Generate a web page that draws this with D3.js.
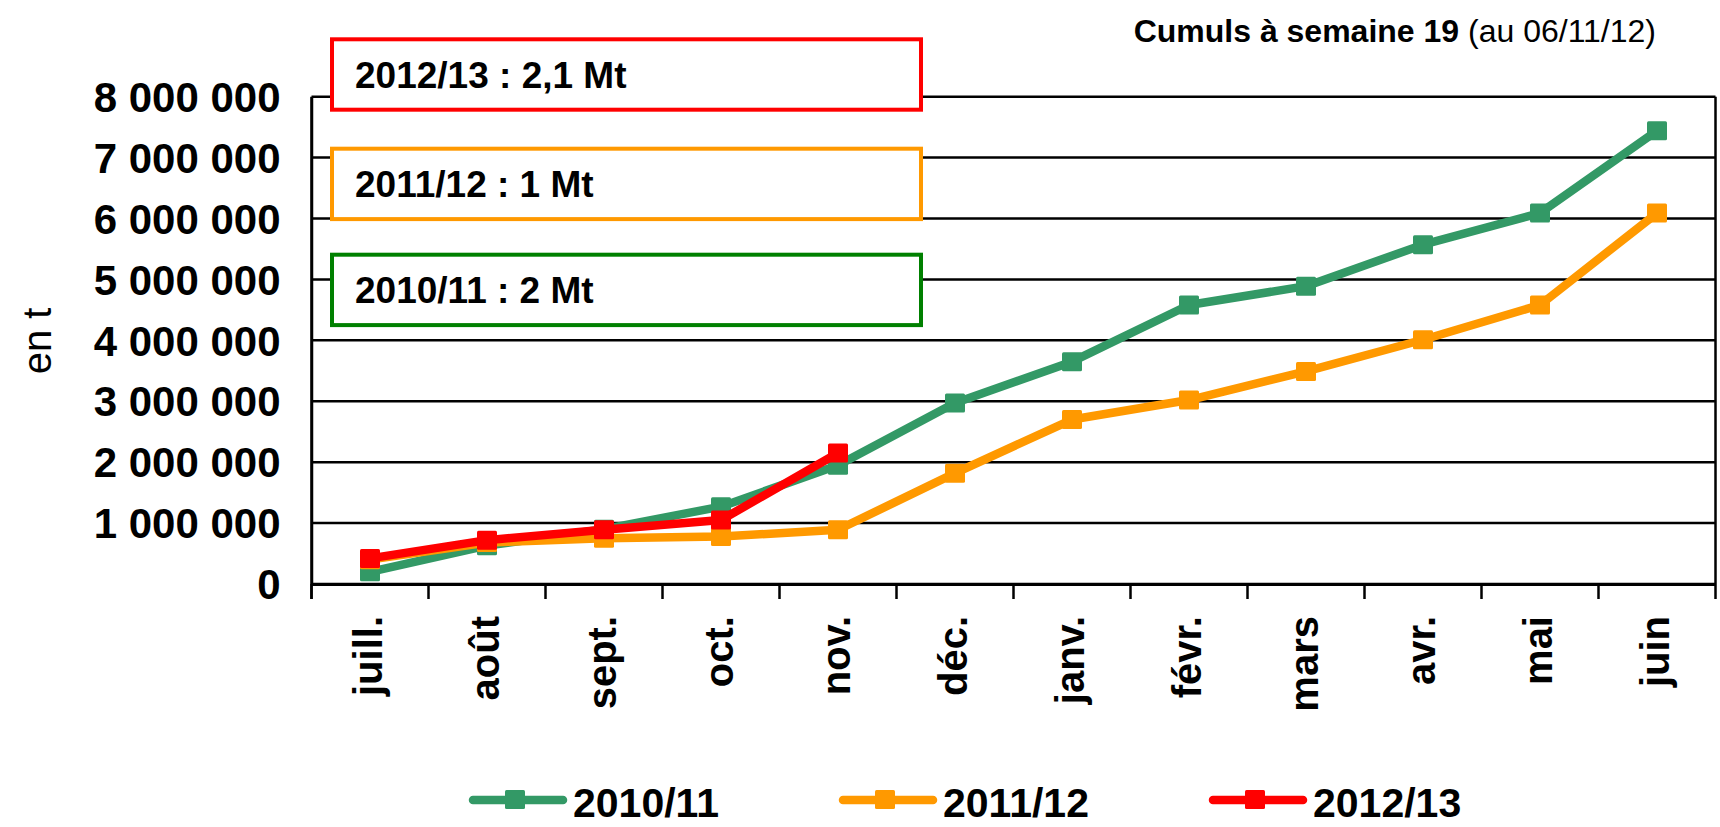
<!DOCTYPE html>
<html>
<head>
<meta charset="utf-8">
<script src="https://cdn.jsdelivr.net/npm/d3@7"></script>
<style>
body{margin:0;background:#fff;}
text{font-family:"Liberation Sans",Arial,sans-serif;}
</style>
</head>
<body>
<script>
// données
var mois = ["juill.","août","sept.","oct.","nov.","déc.","janv.","févr.","mars","avr.","mai","juin"];
var camp1011 = [200000,630000,900000,1270000,1950000,2970000,3650000,4580000,4890000,5570000,6090000,7440000];
var camp1112 = [400000,680000,750000,780000,890000,1820000,2700000,3020000,3490000,4010000,4580000,6090000];
var camp1213 = [420000,720000,890000,1050000,2150000];
var yTicks = [0,1000000,2000000,3000000,4000000,5000000,6000000,7000000,8000000];
var campagnes = ["2010/11","2011/12","2012/13"];
var cumuls = ["2010/11 : 2 Mt","2011/12 : 1 Mt","2012/13 : 2,1 Mt"];
var couleurs = ["#339966","#FF9900","#FF0000"];
var couleursCadre = ["#008000","#FF9900","#FF0000"];

var W = 1720, H = 827;
// zone du tracé (attention : "top" est réservé par window)
var gX = 311.5, dX = 1715.5, hY = 96.7, bY = 584;

var svg = d3.select("body").append("svg")
	.attr("width",W)
	.attr("height",H);

var x = d3.scaleBand().domain(mois).range([gX,dX]).padding(0);
var y = d3.scaleLinear().domain([0,8000000]).range([bY,hY]);

//grille horizontale
svg.append("g")
	.selectAll("line")
	.data(yTicks)
	.enter().append("line")
	.attr("x1",gX).attr("x2",dX)
	.attr("y1",function(d){return y(d);})
	.attr("y2",function(d){return y(d);})
	.attr("stroke","#000")
	.attr("stroke-width",2.5);

//bord droit
svg.append("line")
	.attr("x1",dX).attr("x2",dX)
	.attr("y1",hY).attr("y2",bY+15)
	.attr("stroke","#000").attr("stroke-width",2.5);

//axe Y
var fmt = function(v){return d3.format(",")(v).replace(/,/g," ");};
var axeY = svg.append("g")
	.attr("transform","translate("+gX+",0)")
	.call(d3.axisLeft(y).tickValues(yTicks).tickSize(0).tickPadding(31).tickFormat(fmt));
axeY.select(".domain").attr("stroke","#000").attr("stroke-width",2.5);
axeY.selectAll("text")
	.attr("font-size",42)
	.attr("font-weight","bold")
	.attr("fill","#000")
	.attr("dy",".35em");
svg.append("line")
	.attr("x1",gX).attr("x2",gX)
	.attr("y1",hY).attr("y2",bY+15)
	.attr("stroke","#000").attr("stroke-width",2.5);

//axe X
var axeX = svg.append("g")
	.attr("transform","translate(0,"+bY+")")
	.call(d3.axisBottom(x).tickSize(0).tickFormat(""));
axeX.select(".domain").attr("stroke","#000").attr("stroke-width",3);
svg.append("g")
	.selectAll("line")
	.data(mois)
	.enter().append("line")
	.attr("x1",function(d){return x(d);})
	.attr("x2",function(d){return x(d);})
	.attr("y1",bY).attr("y2",bY+15)
	.attr("stroke","#000").attr("stroke-width",2.5);
svg.append("g")
	.selectAll("text")
	.data(mois)
	.enter().append("text")
	.attr("transform",function(d){return "translate("+(x(d)+x.bandwidth()/2)+",616) rotate(-90)";})
	.attr("text-anchor","end")
	.attr("dy",".31em")
	.attr("font-size",40)
	.attr("font-weight","bold")
	.text(function(d){return d;});

//titre axe
svg.append("text")
	.attr("transform","translate(37,341) rotate(-90)")
	.attr("text-anchor","middle")
	.attr("dy",".35em")
	.attr("font-size",40)
	.text("en t");

//cadres des cumuls (du bas vers le haut : 2010/11, 2011/12, 2012/13)
var cadresY = [254.7,148.7,39.3];
for(var i=0;i<3;i++){
	svg.append("rect")
		.attr("x",332).attr("y",cadresY[i])
		.attr("width",589).attr("height",70.4)
		.attr("fill","#fff")
		.attr("stroke",couleursCadre[i])
		.attr("stroke-width",4);
	svg.append("text")
		.attr("x",355).attr("y",cadresY[i]+35.2+13.5)
		.attr("font-size",37)
		.attr("font-weight","bold")
		.text(cumuls[i]);
}

//courbes
var series = [camp1011,camp1112,camp1213];
var ligne = d3.line()
	.x(function(d,i){return x(mois[i])+x.bandwidth()/2;})
	.y(function(d){return y(d);});
series.forEach(function(s,k){
	svg.append("path")
		.datum(s)
		.attr("d",ligne)
		.attr("fill","none")
		.attr("stroke",couleurs[k])
		.attr("stroke-width",8.5)
		.attr("stroke-linejoin","round");
	svg.append("g")
		.selectAll("rect")
		.data(s)
		.enter().append("rect")
		.attr("x",function(d,i){return x(mois[i])+x.bandwidth()/2-10;})
		.attr("y",function(d){return y(d)-9.5;})
		.attr("width",20).attr("height",19)
		.attr("rx",1.5)
		.attr("fill",couleurs[k]);
});

//légende
var legX = [469,839,1209];
campagnes.forEach(function(c,k){
	var g = svg.append("g");
	g.append("line")
		.attr("x1",legX[k]+4).attr("x2",legX[k]+94)
		.attr("y1",800).attr("y2",800)
		.attr("stroke",couleurs[k])
		.attr("stroke-width",8.5)
		.attr("stroke-linecap","round");
	g.append("rect")
		.attr("x",legX[k]+36).attr("y",790)
		.attr("width",20).attr("height",19)
		.attr("rx",1.5)
		.attr("fill",couleurs[k]);
	g.append("text")
		.attr("x",legX[k]+104).attr("y",817)
		.attr("font-size",41)
		.attr("font-weight","bold")
		.text(c);
});

//titre
svg.append("text")
	.attr("x",1656).attr("y",42)
	.attr("text-anchor","end")
	.attr("font-size",32)
	.call(function(t){
		t.append("tspan").attr("font-weight","bold").text("Cumuls à semaine 19 ");
		t.append("tspan").text("(au 06/11/12)");
	});
</script>
</body>
</html>
